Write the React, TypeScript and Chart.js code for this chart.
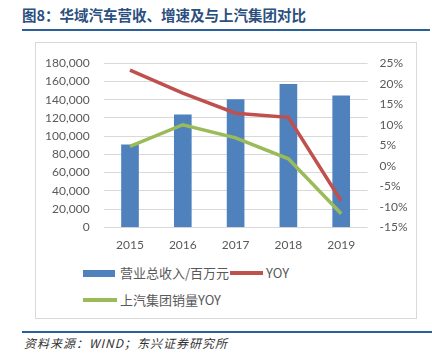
import React, { useEffect, useRef } from "react";
import { Chart, registerables } from "chart.js";

Chart.register(...registerables);

const years = ["2015", "2016", "2017", "2018", "2019"];
const revenue = [90500, 123300, 140000, 156700, 144200];
const revenueYoy = [23.3, 17.7, 12.8, 11.8, -8.6];
const saicYoy = [4.7, 10.0, 6.8, 1.7, -11.7];

const legendLabels = ["营业总收入/百万元", "YOY", "上汽集团销量YOY"];
const BLUE = "#4F81BD";
const RED = "#C0504D";
const GREEN = "#9BBB59";

export default function App() {
  const ref = useRef<HTMLCanvasElement | null>(null);

  useEffect(() => {
    document.body.style.margin = "0";
    const ctx = ref.current!;
    const chart = new Chart(ctx, {
      type: "bar",
      data: {
        labels: years,
        datasets: [
          {
            type: "line",
            label: legendLabels[1],
            data: revenueYoy,
            yAxisID: "y1",
            borderColor: RED,
            backgroundColor: RED,
            borderWidth: 3.5,
            pointRadius: 0,
            tension: 0,
            order: 1,
          },
          {
            type: "line",
            label: legendLabels[2],
            data: saicYoy,
            yAxisID: "y1",
            borderColor: GREEN,
            backgroundColor: GREEN,
            borderWidth: 3.5,
            pointRadius: 0,
            tension: 0,
            order: 1,
          },
          {
            type: "bar",
            label: legendLabels[0],
            data: revenue,
            yAxisID: "y",
            backgroundColor: BLUE,
            barThickness: 17,
            order: 2,
          },
        ],
      },
      options: {
        responsive: false,
        animation: false,
        layout: { padding: { top: 18, left: 0, right: 0, bottom: 0 } },
        plugins: { legend: { display: false }, tooltip: { enabled: false }, title: { display: false } },
        scales: {
          x: {
            grid: { display: false, drawTicks: false },
            border: { display: false },
            ticks: { color: "#595959", font: { family: "Lato", size: 12 }, padding: 11 },
            afterFit: (s: any) => { s.height = 29.7; },
          },
          y: {
            position: "left",
            min: 0,
            max: 180000,
            ticks: {
              stepSize: 20000,
              color: "#595959",
              font: { family: "Lato", size: 12 },
              padding: 14,
              callback: (v: any) => Number(v).toLocaleString("en-US"),
            },
            grid: { color: "#D9D9D9", lineWidth: 1, drawTicks: false },
            border: { display: false },
            afterFit: (s: any) => { s.width = 67.6; },
          },
          y1: {
            position: "right",
            min: -15,
            max: 25,
            ticks: {
              stepSize: 5,
              color: "#595959",
              font: { family: "Lato", size: 12 },
              padding: 12,
              callback: (v: any) => v + "%",
            },
            grid: { display: false, drawTicks: false },
            border: { display: false },
            afterFit: (s: any) => { s.width = 50.4; },
          },
        },
      },
    } as any);
    return () => chart.destroy();
  }, []);

  const legendText: React.CSSProperties = {
    fontFamily: "'Noto Sans CJK SC', Lato, sans-serif",
    fontSize: 13,
    color: "#595959",
    lineHeight: "16px",
  };

  return (
    <div style={{ position: "relative", width: 432, height: 354, background: "#fff", overflow: "hidden" }}>
      <div
        style={{
          position: "absolute",
          left: 22,
          top: 5,
          fontFamily: "'Noto Sans CJK SC', sans-serif",
          fontWeight: 700,
          fontSize: 14.5,
          color: "#2B4F7E",
          lineHeight: "20px",
          whiteSpace: "nowrap",
        }}
      >
        图8：华域汽车营收、增速及与上汽集团对比
      </div>
      <div style={{ position: "absolute", left: 22, top: 29, width: 408, height: 2, background: "#2A5F98" }} />
      <div
        style={{
          position: "absolute",
          left: 35,
          top: 42,
          width: 382,
          height: 277,
          border: "1px solid #D9D9D9",
          boxSizing: "border-box",
        }}
      />
      <canvas ref={ref} width={382} height={215} style={{ position: "absolute", left: 36, top: 42 }} />
      <div style={{ position: "absolute", left: 83, top: 265, display: "flex", alignItems: "center", whiteSpace: "nowrap" }}>
        <div style={{ width: 32, height: 7, background: BLUE, marginRight: 5 }} />
        <span style={legendText}>{legendLabels[0]}</span>
        <div style={{ width: 33, height: 4, background: RED, margin: "0 3px 0 1px" }} />
        <span style={legendText}>{legendLabels[1]}</span>
      </div>
      <div style={{ position: "absolute", left: 83, top: 292, display: "flex", alignItems: "center", whiteSpace: "nowrap" }}>
        <div style={{ width: 34, height: 3.5, background: GREEN, marginRight: 3 }} />
        <span style={legendText}>{legendLabels[2]}</span>
      </div>
      <div style={{ position: "absolute", left: 22, top: 331, width: 410, height: 1.5, background: "#2A5F98" }} />
      <div
        style={{
          position: "absolute",
          left: 24,
          top: 335,
          fontFamily: "'Noto Sans CJK SC', sans-serif",
          fontStyle: "italic",
          fontSize: 12,
          letterSpacing: 1,
          color: "#333",
          lineHeight: "16px",
          whiteSpace: "nowrap",
        }}
      >
        资料来源：WIND；东兴证券研究所
      </div>
    </div>
  );
}
